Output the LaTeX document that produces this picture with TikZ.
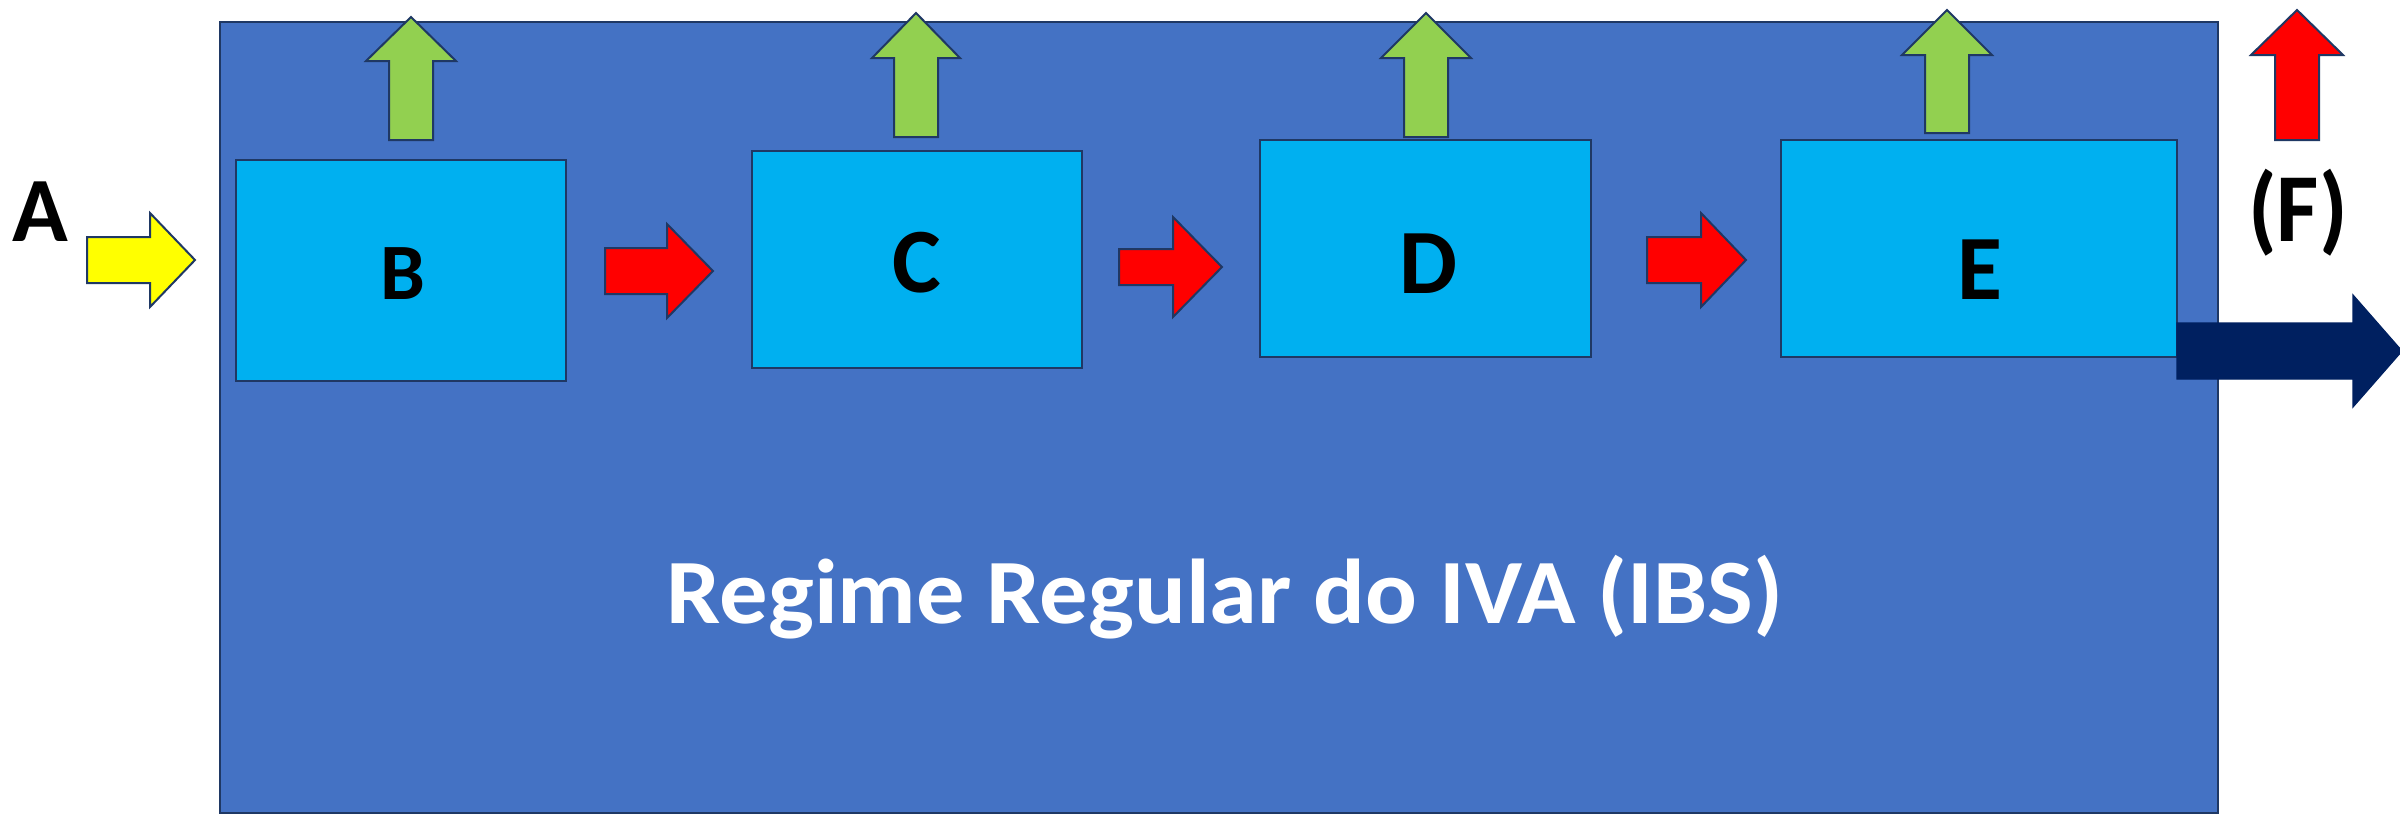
\documentclass[tikz,border=0pt]{standalone}
\usepackage{fontspec}
\setmainfont{Carlito}
\definecolor{bigblue}{HTML}{4472C4}
\definecolor{boxblue}{HTML}{00B0F0}
\definecolor{edgec}{HTML}{1F3864}
\definecolor{greenc}{HTML}{92D050}
\definecolor{redc}{HTML}{FF0000}
\definecolor{yellowc}{HTML}{FFFF00}
\definecolor{navyc}{HTML}{002060}
\newcommand\blockRight[7]{%
  \draw[#1] ({#2},{#5-#6}) -- ({#3},{#5-#6}) -- ({#3},{#5-#7}) -- ({#4},{#5}) -- ({#3},{#5+#7}) -- ({#3},{#5+#6}) -- ({#2},{#5+#6}) -- cycle;}
\newcommand\blockUp[7]{%
  \draw[#1] ({#2-#3},{#7}) -- ({#2-#3},{#6}) -- ({#2-#4},{#6}) -- ({#2},{#5}) -- ({#2+#4},{#6}) -- ({#2+#3},{#6}) -- ({#2+#3},{#7}) -- cycle;}
\tikzset{
  outer/.style={fill=bigblue, draw=edgec, line width=1pt},
  stagebox/.style={fill=boxblue, draw=edgec, line width=1pt},
  greenarrow/.style={fill=greenc, draw=edgec, line width=1pt, line join=miter},
  redarrow/.style={fill=redc, draw=edgec, line width=1pt, line join=miter},
  yellowarrow/.style={fill=yellowc, draw=edgec, line width=1pt, line join=miter},
  navyarrow/.style={fill=navyc, draw=navyc, line width=0.6pt, line join=miter},
  bigtxt/.style={font=\bfseries\fontsize{46}{50}\selectfont, anchor=base, inner sep=0pt},
}
\begin{document}
\begin{tikzpicture}[x=0.5pt, y=-0.5pt]
\useasboundingbox (0,0) rectangle (2400,814);
\clip (0,0) rectangle (2400,814);
\fill[white] (0,0) rectangle (2400,814);
% outer region
\draw[outer] (220,22) rectangle (2218,813);
% green up arrows
\blockUp{greenarrow}{411}{22}{45}{17}{61}{140}
\blockUp{greenarrow}{916}{22}{44}{13}{58}{137}
\blockUp{greenarrow}{1426}{22}{45}{13}{58}{137}
\blockUp{greenarrow}{1947}{22}{45}{10}{55}{133}
% red up arrow F
\blockUp{redarrow}{2297}{22}{46}{10}{55}{140}
% stage boxes
\draw[stagebox] (236,160) rectangle (566,381);
\draw[stagebox] (752,151) rectangle (1082,368);
\draw[stagebox] (1260,140) rectangle (1591,357);
\draw[stagebox] (1781,140) rectangle (2177,357);
% labels
\node[bigtxt] (A) at (40,241) {A};
\node[bigtxt, font=\bfseries\fontsize{40}{44}\selectfont] (B) at (403,299) {B};
\node[bigtxt] (C) at (917,292) {C};
\node[bigtxt] (D) at (1428,293) {D};
\node[bigtxt] (E) at (1980,299) {E};
\node[bigtxt] (F) at (2298,241) {\scalebox{1}[1.06]{(F)}};
\node[bigtxt, text=white] (title) at (1225,623) {\scalebox{1.05}[1]{Regime Regular do IVA (IBS)}};
% horizontal arrows
\blockRight{yellowarrow}{87}{150}{195}{260}{23}{47}
\blockRight{redarrow}{605}{667}{713}{271}{23}{47}
\blockRight{redarrow}{1119}{1173}{1222}{267}{18}{50}
\blockRight{redarrow}{1647}{1701}{1746}{260}{23}{47}
\blockRight{navyarrow}{2177}{2353}{2402}{351}{28}{56}
\end{tikzpicture}
\end{document}
